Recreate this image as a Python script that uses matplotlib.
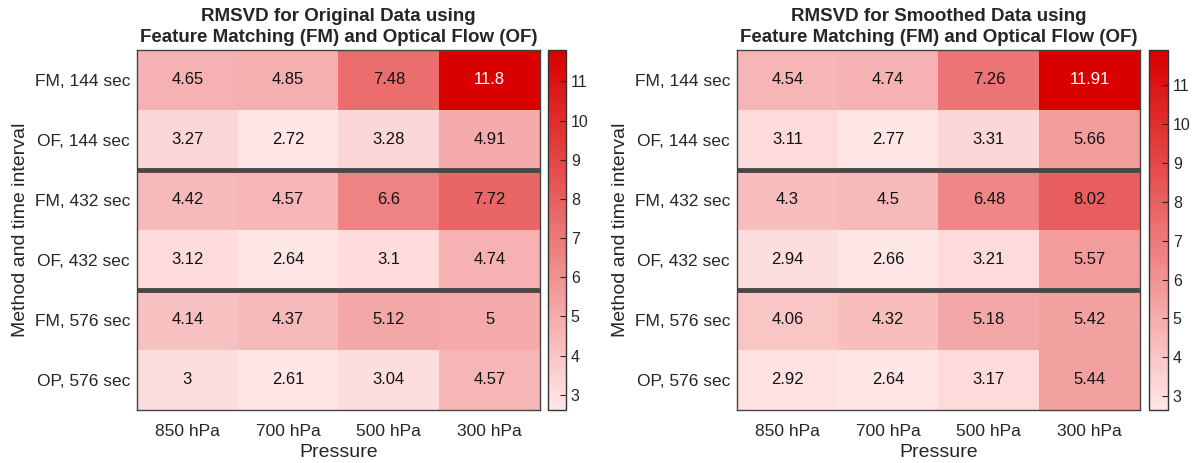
import numpy as np
import matplotlib
matplotlib.use("Agg")
import matplotlib.pyplot as plt
from matplotlib.colors import LinearSegmentedColormap

plt.rcParams['font.family'] = ['Liberation Sans', 'DejaVu Sans']

pressures = ["850 hPa", "700 hPa", "500 hPa", "300 hPa"]
rows = ["FM, 144 sec", "OF, 144 sec", "FM, 432 sec", "OF, 432 sec", "FM, 576 sec", "OP, 576 sec"]

original = [
    [4.65, 4.85, 7.48, 11.8],
    [3.27, 2.72, 3.28, 4.91],
    [4.42, 4.57, 6.6, 7.72],
    [3.12, 2.64, 3.1, 4.74],
    [4.14, 4.37, 5.12, 5],
    [3, 2.61, 3.04, 4.57],
]
smoothed = [
    [4.54, 4.74, 7.26, 11.91],
    [3.11, 2.77, 3.31, 5.66],
    [4.3, 4.5, 6.48, 8.02],
    [2.94, 2.66, 3.21, 5.57],
    [4.06, 4.32, 5.18, 5.42],
    [2.92, 2.64, 3.17, 5.44],
]
titles = ["RMSVD for Original Data using\nFeature Matching (FM) and Optical Flow (OF)",
          "RMSVD for Smoothed Data using\nFeature Matching (FM) and Optical Flow (OF)"]

cmap = LinearSegmentedColormap.from_list("reds", ["#FFE6E6", "#D90000"], N=64)

fig = plt.figure(figsize=(11.97, 4.63), dpi=100)
W, H = 1197, 463
def box(x0, y0, x1, y1):
    return [x0 / W, 1 - y1 / H, (x1 - x0) / W, (y1 - y0) / H]

layouts = [((137, 50, 540, 410), (548, 50, 566, 410)),
           ((737, 50, 1140, 410), (1149, 50, 1168, 410))]
textc = '#262626'
for data, title, (axb, cbb) in zip([original, smoothed], titles, layouts):
    arr = np.array(data, dtype=float)
    ax = fig.add_axes(box(*axb))
    cax = fig.add_axes(box(*cbb))
    vmin, vmax = arr.min(), arr.max()
    im = ax.imshow(arr, cmap=cmap, vmin=vmin, vmax=vmax, aspect='auto', interpolation='nearest')
    for i in range(arr.shape[0]):
        for j in range(arr.shape[1]):
            v = arr[i, j]
            frac = (v - vmin) / (vmax - vmin)
            col = 'white' if frac > 0.85 else '#111111'
            ax.text(j, i, f"{v:g}", ha='center', va='center', fontsize=12, color=col)
    for yb in [1.5, 3.5]:
        ax.axhline(yb, color='#484848', lw=3.5)
    ax.set_xticks(range(len(pressures)))
    ax.set_xticklabels(pressures)
    ax.set_yticks(range(len(rows)))
    ax.set_yticklabels(rows)
    ax.tick_params(length=0, labelsize=12.5, colors=textc)
    ax.tick_params(axis='x', pad=10)
    ax.tick_params(axis='y', pad=5)
    ax.set_xlabel("Pressure", fontsize=14, color=textc, labelpad=4)
    ax.set_ylabel("Method and time interval", fontsize=14, color=textc, labelpad=4)
    ax.set_title(title, fontsize=13.5, fontweight='bold', color=textc, pad=6, linespacing=1.3)
    for s in ax.spines.values():
        s.set_color('#444444')
        s.set_linewidth(1.0)
    cb = fig.colorbar(im, cax=cax)
    cb.set_ticks(range(3, 12))
    cb.ax.tick_params(direction='in', length=4, labelsize=11.5, colors=textc, width=0.8)
    cb.outline.set_edgecolor('#333333')
    cb.outline.set_linewidth(1.0)

fig.savefig("out.png", dpi=100)
